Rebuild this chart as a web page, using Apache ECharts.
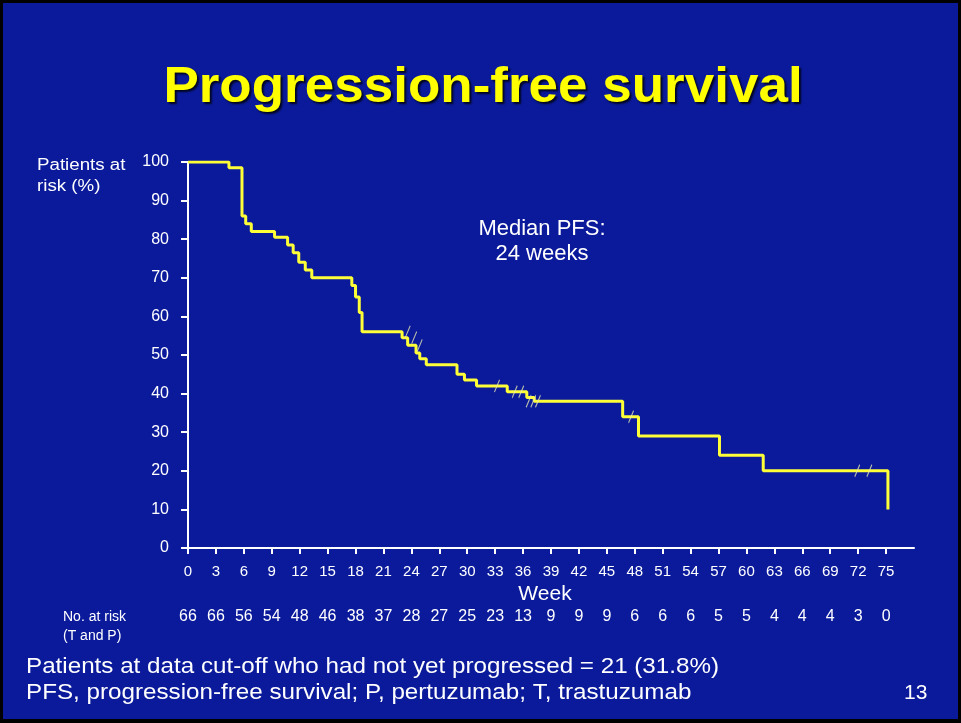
<!DOCTYPE html>
<html>
<head>
<meta charset="utf-8">
<script src="https://cdn.jsdelivr.net/npm/echarts@6/dist/echarts.min.js"></script>
<style>
  html, body { margin: 0; padding: 0; background: #000; }
  #chart { width: 955px; height: 716px; border-left: 3px solid #000; border-top: 3px solid #000; border-right: 3px solid #000; border-bottom: 4px solid #000; }
</style>
</head>
<body>
<div id="chart"></div>
<script>
// Kaplan–Meier steps: week of each event and survival (%) after it
const eventWeeks = [0, 4.4, 5.8, 6.2, 6.8, 9.3, 10.7, 11.3, 11.9, 12.6, 13.3, 17.6, 18.0, 18.4, 18.7,
  23.0, 23.6, 24.5, 24.9, 25.6, 28.9, 29.7, 31.0, 34.3, 36.4, 37.2, 46.7, 48.4, 57.1, 61.8, 75.2];
const survival = [100, 98.5, 86, 84, 82, 80.5, 78.5, 76.5, 74, 72, 70, 68, 65, 61, 56,
  54.5, 52.5, 50.5, 49, 47.5, 45, 43.5, 42, 40.5, 39, 38, 34, 29, 24, 20, 10];

// Censored observations
const censorWeeks = [23.6, 24.3, 24.9, 33.2, 35.1, 35.8, 36.6, 37.1, 37.6, 47.6, 71.9, 73.2];
const censorPct = [56, 54.5, 52.5, 42, 40.5, 40.5, 38, 38, 38, 34, 20, 20];

// Axis ticks and number at risk below each week tick
const weekTicks = [0, 3, 6, 9, 12, 15, 18, 21, 24, 27, 30, 33, 36, 39, 42, 45, 48, 51, 54, 57, 60, 63, 66, 69, 72, 75];
const atRisk = [66, 66, 56, 54, 48, 46, 38, 37, 28, 27, 25, 23, 13, 9, 9, 9, 6, 6, 6, 5, 5, 4, 4, 4, 3, 0];

const FONT = 'Liberation Sans, Arial, sans-serif';
const chart = echarts.init(document.getElementById('chart'), null, { renderer: 'canvas' });

const curve = eventWeeks.map((w, i) => [w, survival[i]]);
const censors = censorWeeks.map((w, i) => [w, censorPct[i]]);

// slide text, slightly widened like the rest of the slide lettering
function slideText(text, x, y, font, opts) {
  return Object.assign({
    type: 'text', x: x, y: y,
    style: Object.assign({ text: text, fill: '#ffffff', font: font, verticalAlign: 'middle' }, (opts && opts.style) || {})
  }, (opts && opts.el) || {});
}

chart.setOption({
  backgroundColor: '#0a1a9a',
  animation: false,
  grid: { left: 185, top: 159, right: 44, bottom: 171, containLabel: false },
  xAxis: [
    {
      type: 'value', min: 0, max: 78, interval: 3,
      name: 'Week', nameLocation: 'middle', nameGap: 29,
      nameTextStyle: { color: '#ffffff', fontSize: 21, fontFamily: FONT, padding: [0, 12, 0, 0] },
      axisLine: { lineStyle: { color: '#ffffff', width: 2 } },
      axisTick: { customValues: weekTicks, length: 6, lineStyle: { color: '#ffffff', width: 2 } },
      axisLabel: { customValues: weekTicks, color: '#ffffff', fontSize: 15, fontFamily: FONT, margin: 16 },
      splitLine: { show: false }
    },
    {
      type: 'value', min: 0, max: 78, interval: 3, position: 'bottom', offset: 45,
      axisLine: { show: false },
      axisTick: { show: false },
      axisLabel: {
        customValues: weekTicks, color: '#ffffff', fontSize: 16, fontFamily: FONT, margin: 16,
        formatter: v => String(atRisk[weekTicks.indexOf(v)])
      },
      splitLine: { show: false }
    }
  ],
  yAxis: {
    type: 'value', min: 0, max: 100, interval: 10,
    axisLine: { show: true, lineStyle: { color: '#ffffff', width: 2 } },
    axisTick: { show: true, length: 7, lineStyle: { color: '#ffffff', width: 2 } },
    axisLabel: { color: '#ffffff', fontSize: 16, fontFamily: FONT, margin: 19 },
    splitLine: { show: false }
  },
  series: [
    {
      type: 'line', step: 'end', data: curve, symbol: 'none', xAxisIndex: 0,
      lineStyle: { color: '#ffff38', width: 3 }, z: 3
    },
    {
      type: 'scatter', data: censors, xAxisIndex: 0,
      symbol: 'path://M0 12 L5 0', symbolSize: [5, 12],
      itemStyle: { color: 'transparent', borderColor: '#e8e8b0', borderWidth: 1.3 }, z: 4
    }
  ],
  graphic: [
    slideText('Progression-free survival', 480, 85, 'bold 50px ' + FONT, {
      style: {
        fill: '#ffff00', align: 'center',
        textShadowColor: 'rgba(0,0,0,0.8)', textShadowBlur: 2, textShadowOffsetX: 2, textShadowOffsetY: 2
      },
      el: { scaleX: 1.06 }
    }),
    slideText('Patients at\nrisk (%)', 34, 173, '16px ' + FONT, { style: { lineHeight: 21 }, el: { scaleX: 1.17 } }),
    slideText('Median PFS:\n24 weeks', 539, 238, '22px ' + FONT, { style: { lineHeight: 25, align: 'center' } }),
    slideText('No. at risk\n(T and P)', 60, 624, '14px ' + FONT, { style: { lineHeight: 19 } }),
    slideText('Patients at data cut-off who had not yet progressed = 21 (31.8%)', 23, 664, '22px ' + FONT, { el: { scaleX: 1.1 } }),
    slideText('PFS, progression-free survival; P, pertuzumab; T, trastuzumab', 23, 690, '22px ' + FONT, { el: { scaleX: 1.1 } }),
    slideText('13', 901, 690, '21px ' + FONT)
  ]
});
</script>
</body>
</html>
